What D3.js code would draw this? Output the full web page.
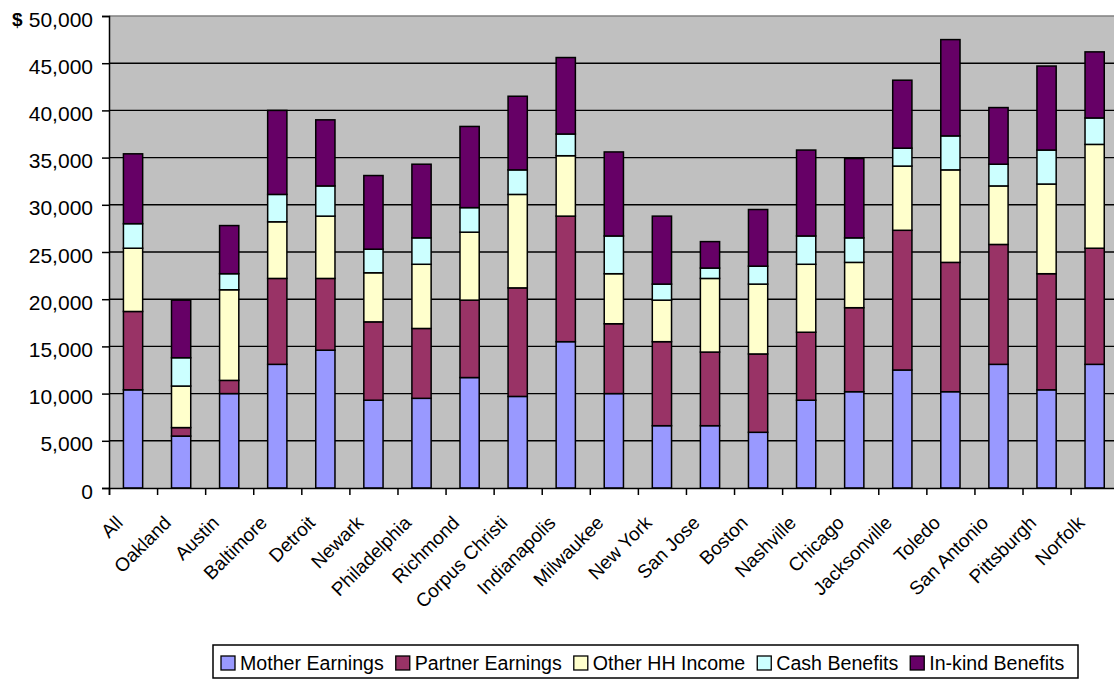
<!DOCTYPE html>
<html>
<head>
<meta charset="utf-8">
<script src="https://cdn.jsdelivr.net/npm/d3@7"></script>
<style>
  body { margin: 0; background: #fff; }
  svg { display: block; font-family: "Liberation Sans", Arial, sans-serif; }
</style>
</head>
<body>
<div id="chart"></div>
<script>
const cities = ["All", "Oakland", "Austin", "Baltimore", "Detroit", "Newark", "Philadelphia",
  "Richmond", "Corpus Christi", "Indianapolis", "Milwaukee", "New York", "San Jose", "Boston",
  "Nashville", "Chicago", "Jacksonville", "Toledo", "San Antonio", "Pittsburgh", "Norfolk"]

const seriesNames = ["Mother Earnings", "Partner Earnings", "Other HH Income", "Cash Benefits", "In-kind Benefits"]

const motherEarnings  = [10400, 5500, 10000, 13100, 14600, 9300, 9500, 11700, 9700, 15500, 10000, 6600, 6600, 5900, 9300, 10200, 12500, 10200, 13100, 10400, 13100]
const partnerEarnings = [8300, 900, 1400, 9100, 7600, 8300, 7400, 8200, 11500, 13300, 7400, 8900, 7800, 8300, 7200, 8900, 14800, 13700, 12700, 12300, 12300]
const otherHHIncome   = [6700, 4400, 9600, 6000, 6600, 5200, 6800, 7200, 9900, 6400, 5300, 4400, 7800, 7400, 7200, 4800, 6800, 9800, 6200, 9500, 11000]
const cashBenefits    = [2600, 3000, 1700, 2900, 3200, 2500, 2800, 2600, 2600, 2300, 4000, 1700, 1100, 1900, 3000, 2600, 1900, 3600, 2300, 3600, 2800]
const inkindBenefits  = [7400, 6100, 5100, 8900, 7000, 7800, 7800, 8600, 7800, 8100, 8900, 7200, 2800, 6000, 9100, 8400, 7200, 10200, 6000, 8900, 7000]

const yTicks = [0, 5000, 10000, 15000, 20000, 25000, 30000, 35000, 40000, 45000, 50000]

const colors = ["#9999FF", "#993366", "#FFFFCC", "#CCFFFF", "#660066"]

const width = 1114
const height = 683
const plot = {left: 109, top: 16, right: 109 + 21 * 48.08, bottom: 488}

// build rows for the stack
const seriesValues = [motherEarnings, partnerEarnings, otherHHIncome, cashBenefits, inkindBenefits]
const rows = cities.map((c, i) => {
  const r = {city: c}
  seriesNames.forEach((s, k) => r[s] = seriesValues[k][i])
  return r
})
const stacked = d3.stack().keys(seriesNames)(rows)

const svg = d3.select("#chart")
  .append("svg")
  .attr("width", width)
  .attr("height", height)

const x = d3.scaleBand()
  .domain(cities)
  .range([plot.left, plot.right])
  .paddingInner(0.6)
  .paddingOuter(0.3)

const xEdges = d3.scaleLinear()
  .domain([0, cities.length])
  .range([plot.left, plot.right])

const y = d3.scaleLinear()
  .domain([0, 50000])
  .range([plot.bottom, plot.top])

// plot background
svg.append("rect")
  .attr("x", plot.left)
  .attr("y", plot.top)
  .attr("width", plot.right - plot.left)
  .attr("height", plot.bottom - plot.top)
  .attr("fill", "#C0C0C0")

// gridlines
svg.append("g")
  .selectAll("line")
  .data(yTicks.filter(d => d > 0 && d < 50000))
  .join("line")
  .attr("x1", plot.left)
  .attr("x2", plot.right)
  .attr("y1", d => y(d))
  .attr("y2", d => y(d))
  .attr("stroke", "#000")
  .attr("stroke-width", 1.4)

svg.append("line")
  .attr("x1", plot.left)
  .attr("x2", plot.right)
  .attr("y1", y(50000))
  .attr("y2", y(50000))
  .attr("stroke", "#808080")
  .attr("stroke-width", 1.4)

// bars
svg.append("g")
  .selectAll("g")
  .data(stacked)
  .join("g")
  .attr("fill", (d, i) => colors[i])
  .selectAll("rect")
  .data(d => d)
  .join("rect")
  .attr("x", d => x(d.data.city))
  .attr("y", d => y(d[1]))
  .attr("width", x.bandwidth())
  .attr("height", d => y(d[0]) - y(d[1]))
  .attr("stroke", "#000")
  .attr("stroke-width", 1.5)

// left axis
const yAxis = svg.append("g")
  .attr("transform", `translate(${plot.left},0)`)
  .call(d3.axisLeft(y).tickValues(yTicks).tickSize(7).tickPadding(9).tickFormat(d3.format(",")))
yAxis.select(".domain").attr("stroke", "#000").attr("stroke-width", 1.5)
yAxis.selectAll(".tick line").attr("stroke", "#000").attr("stroke-width", 1.5)
yAxis.selectAll(".tick text")
  .attr("font-size", 21)
  .attr("font-family", "Liberation Sans, Arial, sans-serif")
  .attr("fill", "#000")
  .attr("dy", "0.48em")

svg.append("text")
  .attr("x", 12)
  .attr("y", y(50000) + 10)
  .attr("font-size", 19)
  .attr("font-weight", "bold")
  .text("$")

// bottom axis: ticks at category edges
const xTickAxis = svg.append("g")
  .attr("transform", `translate(0,${plot.bottom})`)
  .call(d3.axisBottom(xEdges).tickValues(d3.range(0, cities.length + 1)).tickSize(7).tickFormat(""))
xTickAxis.select(".domain").attr("stroke", "#000").attr("stroke-width", 1.5)
xTickAxis.selectAll(".tick line").attr("stroke", "#000").attr("stroke-width", 1.5)

// bottom axis labels
const xLabels = svg.append("g")
  .attr("transform", `translate(0,${plot.bottom})`)
  .call(d3.axisBottom(x).tickSize(0).tickPadding(0))
xLabels.select(".domain").remove()
xLabels.selectAll(".tick text")
  .attr("font-size", 19)
  .attr("font-family", "Liberation Sans, Arial, sans-serif")
  .attr("fill", "#000")
  .attr("text-anchor", "end")
  .attr("dy", null)
  .attr("y", 0)
  .attr("transform", "translate(-9,36) rotate(-45)")

// legend
const legend = svg.append("g")
svg.append("rect")
  .attr("x", 213)
  .attr("y", 645)
  .attr("width", 865)
  .attr("height", 33)
  .attr("fill", "#fff")
  .attr("stroke", "#000")
  .attr("stroke-width", 1.5)
  .lower()

let lx = 221
seriesNames.forEach((s, i) => {
  const g = legend.append("g").attr("transform", `translate(${lx},0)`)
  g.append("rect")
    .attr("x", 0)
    .attr("y", 656)
    .attr("width", 14)
    .attr("height", 14)
    .attr("fill", colors[i])
    .attr("stroke", "#000")
    .attr("stroke-width", 1.3)
  const t = g.append("text")
    .attr("x", 19)
    .attr("y", 670)
    .attr("font-size", 19.6)
    .text(s)
  lx += 19 + t.node().getComputedTextLength() + 12
})
</script>
</body>
</html>
